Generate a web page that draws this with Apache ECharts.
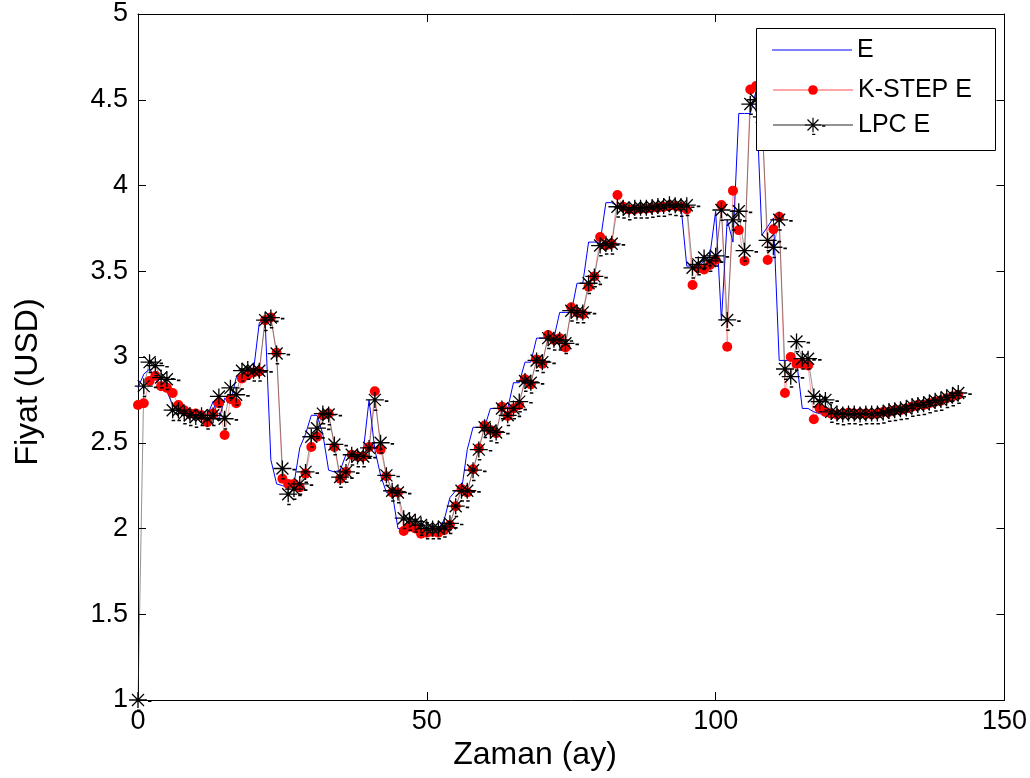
<!DOCTYPE html>
<html>
<head>
<meta charset="utf-8">
<script src="https://cdn.jsdelivr.net/npm/echarts@6/dist/echarts.min.js"></script>
<style>
html,body{margin:0;padding:0;background:#fff;}
#chart{width:1030px;height:778px;}
</style>
</head>
<body>
<div id="chart"></div>
<script>
// months 0..142
const seriesNames = ['E', 'K-STEP E', 'LPC E'];
const xTicks = [0, 50, 100, 150];
const yTicks = [1, 1.5, 2, 2.5, 3, 3.5, 4, 4.5, 5];

const E = [
  2.82, 2.90, 2.93, 2.88, 2.82, 2.80, 2.72, 2.68, 2.66, 2.66,
  2.66, 2.66, 2.66, 2.74, 2.63, 2.76, 2.73, 2.88, 2.90, 2.91,
  2.92, 3.20, 3.22, 2.40, 2.26, 2.25, 2.24, 2.26, 2.47, 2.55,
  2.66, 2.66, 2.55, 2.34, 2.33, 2.34, 2.43, 2.43, 2.43, 2.45,
  2.75, 2.46, 2.31, 2.21, 2.21, 2.00, 2.00, 1.99, 1.98, 1.98,
  1.98, 1.99, 2.00, 2.05, 2.18, 2.22, 2.22, 2.46, 2.59, 2.59,
  2.59, 2.70, 2.70, 2.70, 2.70, 2.85, 2.85, 2.97, 2.97, 3.11,
  3.11, 3.11, 3.11, 3.26, 3.26, 3.26, 3.43, 3.43, 3.67, 3.67,
  3.67, 3.90, 3.90, 3.88, 3.88, 3.88, 3.88, 3.88, 3.88, 3.89,
  3.89, 3.89, 3.89, 3.89, 3.88, 3.53, 3.53, 3.53, 3.56, 3.59,
  3.85, 3.21, 3.80, 3.67, 4.42, 4.42, 4.42, 4.55, 3.71, 3.76,
  3.81, 2.98, 2.98, 2.98, 2.98, 2.70, 2.70, 2.68, 2.67, 2.665,
  2.67, 2.67, 2.665, 2.67, 2.665, 2.665, 2.67, 2.67, 2.675, 2.68,
  2.685, 2.69, 2.70, 2.71, 2.715, 2.72, 2.73, 2.735, 2.745, 2.755,
  2.765, 2.775, 2.78
];

const KSTEP = [
  2.72, 2.73, 2.86, 2.89, 2.83, 2.82, 2.79, 2.72, 2.69, 2.67,
  2.67, 2.66, 2.62, 2.67, 2.73, 2.545, 2.755, 2.73, 2.875, 2.895,
  2.91, 2.915, 3.215, 3.23, 3.025, 2.29, 2.26, 2.26, 2.24, 2.32,
  2.475, 2.535, 2.66, 2.67, 2.475, 2.29, 2.33, 2.43, 2.42, 2.42,
  2.475, 2.80, 2.46, 2.305, 2.21, 2.21, 1.985, 2.01, 2.00, 1.97,
  1.975, 1.98, 1.975, 1.99, 2.02, 2.13, 2.23, 2.21, 2.345, 2.468,
  2.60, 2.575, 2.556, 2.71, 2.656, 2.70, 2.72, 2.87, 2.84, 2.986,
  2.96, 3.128, 3.10, 3.11, 3.056, 3.29, 3.26, 3.25, 3.41, 3.47,
  3.70, 3.65, 3.66, 3.945, 3.876, 3.86, 3.86, 3.865, 3.865, 3.87,
  3.87, 3.875, 3.885, 3.88, 3.875, 3.86, 3.42, 3.517, 3.51, 3.536,
  3.566, 3.886, 3.06, 3.97, 3.74, 3.56, 4.56, 4.58, 4.45, 3.566,
  3.745, 3.818, 2.79, 3.00, 2.96, 2.96, 2.95, 2.637, 2.70, 2.68,
  2.67, 2.665, 2.67, 2.675, 2.67, 2.67, 2.67, 2.665, 2.67, 2.68,
  2.68, 2.69, 2.69, 2.70, 2.71, 2.72, 2.72, 2.73, 2.74, 2.745,
  2.76, 2.77, 2.78
];

const LPC = [
  1.00, 2.83, 2.97, 2.95, 2.88, 2.87, 2.69, 2.69, 2.67, 2.66,
  2.65, 2.66, 2.64, 2.66, 2.77, 2.64, 2.82, 2.78, 2.92, 2.93,
  2.92, 2.92, 3.215, 3.23, 3.02, 2.35, 2.20, 2.23, 2.26, 2.33,
  2.535, 2.585, 2.67, 2.665, 2.49, 2.30, 2.33, 2.43, 2.42, 2.42,
  2.47, 2.75, 2.50, 2.31, 2.22, 2.21, 2.06, 2.05, 2.04, 2.02,
  2.00, 2.00, 2.00, 2.01, 2.03, 2.13, 2.22, 2.22, 2.34, 2.46,
  2.59, 2.57, 2.56, 2.70, 2.66, 2.70, 2.74, 2.86, 2.85, 2.98,
  2.97, 3.11, 3.10, 3.10, 3.08, 3.27, 3.26, 3.26, 3.43, 3.47,
  3.65, 3.66, 3.66, 3.876, 3.87, 3.86, 3.87, 3.87, 3.87, 3.875,
  3.88, 3.88, 3.89, 3.885, 3.88, 3.885, 3.52, 3.54, 3.58, 3.56,
  3.59, 3.857, 3.216, 3.80, 3.85, 3.62, 4.475, 4.50, 4.40, 3.68,
  3.64, 3.80, 2.93, 2.885, 3.09, 2.99, 2.99, 2.77, 2.74, 2.75,
  2.68, 2.67, 2.665, 2.67, 2.67, 2.665, 2.67, 2.67, 2.67, 2.675,
  2.685, 2.69, 2.695, 2.70, 2.715, 2.72, 2.725, 2.735, 2.745, 2.75,
  2.765, 2.775, 2.79
];

const toPairs = arr => arr.map((v, i) => [i, v]);

// asterisk marker (with the small dash artefacts of the original renderer)
const ASTERISK = 'path://' +
  'M-9,-0.65L9,-0.65L9,0.65L-9,0.65Z' +
  'M-0.65,-8L0.65,-8L0.65,8L-0.65,8Z' +
  'M-6.46,-5.54L-5.54,-6.46L6.46,5.54L5.54,6.46Z' +
  'M-6.46,5.54L5.54,-6.46L6.46,-5.54L-5.54,6.46Z' +
  'M10,0.3L13.5,0.3L13.5,2L10,2Z' +
  'M-1,9.5L2.5,9.5L2.5,11L-1,11Z' +
  'M-14,-14L-13.99,-14L-13.99,-13.99Z' +
  'M14,14L13.99,14L13.99,13.99Z';

const FONT = 'Arial, "Liberation Sans", sans-serif';

const chart = echarts.init(document.getElementById('chart'), null, {renderer: 'canvas'});

const axisCommon = {
  axisLine: {show: true, onZero: false, lineStyle: {color: '#000', width: 1}},
  axisTick: {show: true, inside: true, length: 8, lineStyle: {color: '#000', width: 1}},
  splitLine: {show: false}
};

const legendText = {fontSize: 25, fontFamily: FONT, color: '#000', lineHeight: 26};

chart.setOption({
  animation: false,
  backgroundColor: '#fff',
  grid: {left: 138, right: 18, top: 14, bottom: 78, containLabel: false},
  xAxis: [
    Object.assign({
      type: 'value', min: xTicks[0], max: xTicks[xTicks.length - 1], interval: 50,
      position: 'bottom',
      axisLabel: {show: true, color: '#000', fontSize: 27, fontFamily: FONT, margin: 8}
    }, axisCommon),
    Object.assign({
      type: 'value', min: xTicks[0], max: xTicks[xTicks.length - 1], interval: 50,
      position: 'top', axisLabel: {show: false}
    }, axisCommon)
  ],
  yAxis: [
    Object.assign({
      type: 'value', min: yTicks[0], max: yTicks[yTicks.length - 1], interval: 0.5,
      position: 'left',
      axisLabel: {show: true, color: '#000', fontSize: 27, fontFamily: FONT, margin: 10}
    }, axisCommon),
    Object.assign({
      type: 'value', min: yTicks[0], max: yTicks[yTicks.length - 1], interval: 0.5,
      position: 'right', axisLabel: {show: false}
    }, axisCommon)
  ],
  legend: [
    {
      data: [{name: seriesNames[0], icon: 'rect'}], orient: 'vertical', left: 772, top: 37, padding: 0,
      itemWidth: 80, itemHeight: 1, selectedMode: false, z: 10,
      textStyle: legendText
    },
    {
      data: [seriesNames[1]], orient: 'vertical', left: 772, top: 77, padding: 0,
      itemWidth: 80, itemHeight: 12, selectedMode: false, z: 10,
      textStyle: legendText
    },
    {
      data: [seriesNames[2]], orient: 'vertical', left: 772, top: 112, padding: 0,
      itemWidth: 80, itemHeight: 32, selectedMode: false, z: 10,
      textStyle: legendText
    }
  ],
  graphic: [
    {type: 'rect', z: 8, shape: {x: 756.5, y: 28.5, width: 239, height: 122},
     style: {fill: '#fff', stroke: '#000', lineWidth: 1}},
    {type: 'text', z: 8, x: 535, y: 755,
     style: {text: 'Zaman (ay)', fontSize: 32, fontFamily: FONT, fill: '#000', align: 'center', verticalAlign: 'middle'}},
    {type: 'text', z: 8, x: 28, y: 382, rotation: Math.PI / 2,
     style: {text: 'Fiyat (USD)', fontSize: 32, fontFamily: FONT, fill: '#000', align: 'center', verticalAlign: 'middle'}}
  ],
  series: [
    {
      name: seriesNames[0], type: 'line', data: toPairs(E),
      showSymbol: false, symbol: 'none',
      lineStyle: {color: '#0000ff', width: 1}, itemStyle: {color: '#0000ff'}
    },
    {
      name: seriesNames[1], type: 'line', data: toPairs(KSTEP),
      symbol: 'circle', symbolSize: 10, showSymbol: true, showAllSymbol: true,
      lineStyle: {color: 'rgba(255,0,0,0.35)', width: 1},
      itemStyle: {color: '#ff0000'}
    },
    {
      name: seriesNames[2], type: 'line', data: toPairs(LPC),
      symbol: ASTERISK, symbolSize: 28, showSymbol: true, showAllSymbol: true,
      lineStyle: {color: 'rgba(40,40,40,0.5)', width: 1},
      itemStyle: {color: '#000'}
    }
  ]
});
</script>
</body>
</html>
